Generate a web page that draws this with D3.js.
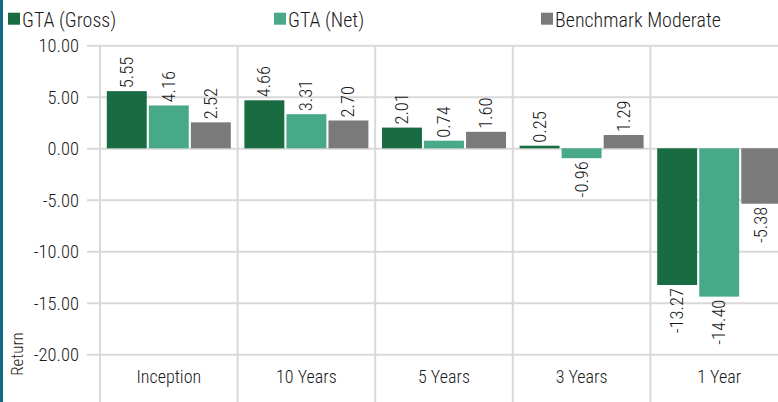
<!DOCTYPE html>
<html><head><meta charset="utf-8">
<script src="https://cdn.jsdelivr.net/npm/d3@7"></script>
<style>
html,body{margin:0;padding:0;background:#fff;}
svg text{font-family:"Roboto Condensed",Roboto,sans-serif;font-weight:300;fill:#1a1a1a;}
</style></head>
<body>
<svg id="chart" width="778" height="402"></svg>
<script>
const categories = ["Inception","10 Years","5 Years","3 Years","1 Year"];
const seriesNames = ["GTA (Gross)","GTA (Net)","Benchmark Moderate"];
const seriesColors = ["#196b42","#47a988","#7a7a7a"];
const gross = [5.55, 4.66, 2.01, 0.25, -13.27];
const net = [4.16, 3.31, 0.74, -0.96, -14.40];
const bench = [2.52, 2.70, 1.60, 1.29, -5.38];
const yTicks = [10, 5, 0, -5, -10, -15, -20];
const series = [gross, net, bench];

const fmt = d3.formatLocale({decimal:".", thousands:",", grouping:[3], currency:["",""], minus:"-"}).format(".2f");

const svg = d3.select("#chart");
const W = 778, H = 402;
const plotLeft = 100, plotRight = 788, plotTop = 45.3, plotBottom = 405.8;

const x = d3.scaleBand().domain(categories).range([plotLeft, plotRight]).paddingInner(0).paddingOuter(0);
const x1 = d3.scaleBand().domain(d3.range(3)).range([6.8, x.bandwidth() - 6.8]).paddingInner(0.05).paddingOuter(0);
const y = d3.scaleLinear().domain([10, -25]).range([plotTop, plotBottom]);

// left accent bar
svg.append("rect").attr("x",0).attr("y",0).attr("width",3).attr("height",H).attr("fill","#136a85");

// horizontal gridlines via axis
const yAxis = d3.axisLeft(y).tickValues(yTicks).tickFormat(fmt).tickSize(-(plotRight - 87)).tickPadding(5);
const gy = svg.append("g").attr("transform",`translate(87,0)`).call(yAxis);
gy.select(".domain").remove();
gy.selectAll(".tick line").attr("stroke","#d9d9d9").attr("stroke-width",2);
gy.selectAll(".tick text").attr("font-size",18.5).attr("fill","#1a1a1a").attr("x",-8).attr("dy","0.34em");

// vertical separators
const seps = categories.map(c => x(c)).concat([x(categories[categories.length-1]) + x.bandwidth()]);
svg.append("g").selectAll("line").data(seps).join("line")
  .attr("x1", d => d).attr("x2", d => d).attr("y1", plotTop).attr("y2", H)
  .attr("stroke","#d9d9d9").attr("stroke-width",2);

// bars
const groups = svg.append("g").selectAll("g").data(categories).join("g")
  .attr("transform", c => `translate(${x(c)},0)`);
groups.each(function(c, ci){
  const g = d3.select(this);
  series.forEach((s, si) => {
    const v = s[ci];
    g.append("rect")
      .attr("x", x1(si)).attr("width", x1.bandwidth())
      .attr("y", y(Math.max(0, v))).attr("height", Math.abs(y(v) - y(0)))
      .attr("fill", seriesColors[si]);
    const cx = x1(si) + x1.bandwidth()/2;
    const ty = v >= 0 ? y(v) - 3 : y(v) + 3;
    g.append("text")
      .attr("transform", `translate(${cx},${ty}) rotate(-90)`)
      .attr("text-anchor", v >= 0 ? "start" : "end")
      .attr("dominant-baseline","central")
      .attr("font-size",18.5)
      .text(fmt(v));
  });
});

// category labels
svg.append("g").selectAll("text").data(categories).join("text")
  .attr("x", c => x(c) + x.bandwidth()/2).attr("y", 383)
  .attr("text-anchor","middle").attr("font-size",18).text(c => c);

// y axis title
svg.append("text").attr("transform","translate(17,354) rotate(-90)")
  .attr("text-anchor","middle").attr("font-size",17).attr("dominant-baseline","central").text("Return");

// legend
const legendX = [8, 274, 541];
const lg = svg.append("g").selectAll("g").data(seriesNames).join("g")
  .attr("transform",(d,i)=>`translate(${legendX[i]},0)`);
lg.append("rect").attr("x",0).attr("y",12.7).attr("width",12).attr("height",12).attr("fill",(d,i)=>seriesColors[i]);
lg.append("text").attr("x",14).attr("y",26.5).attr("font-size",20).text(d=>d);
</script>
</body></html>
